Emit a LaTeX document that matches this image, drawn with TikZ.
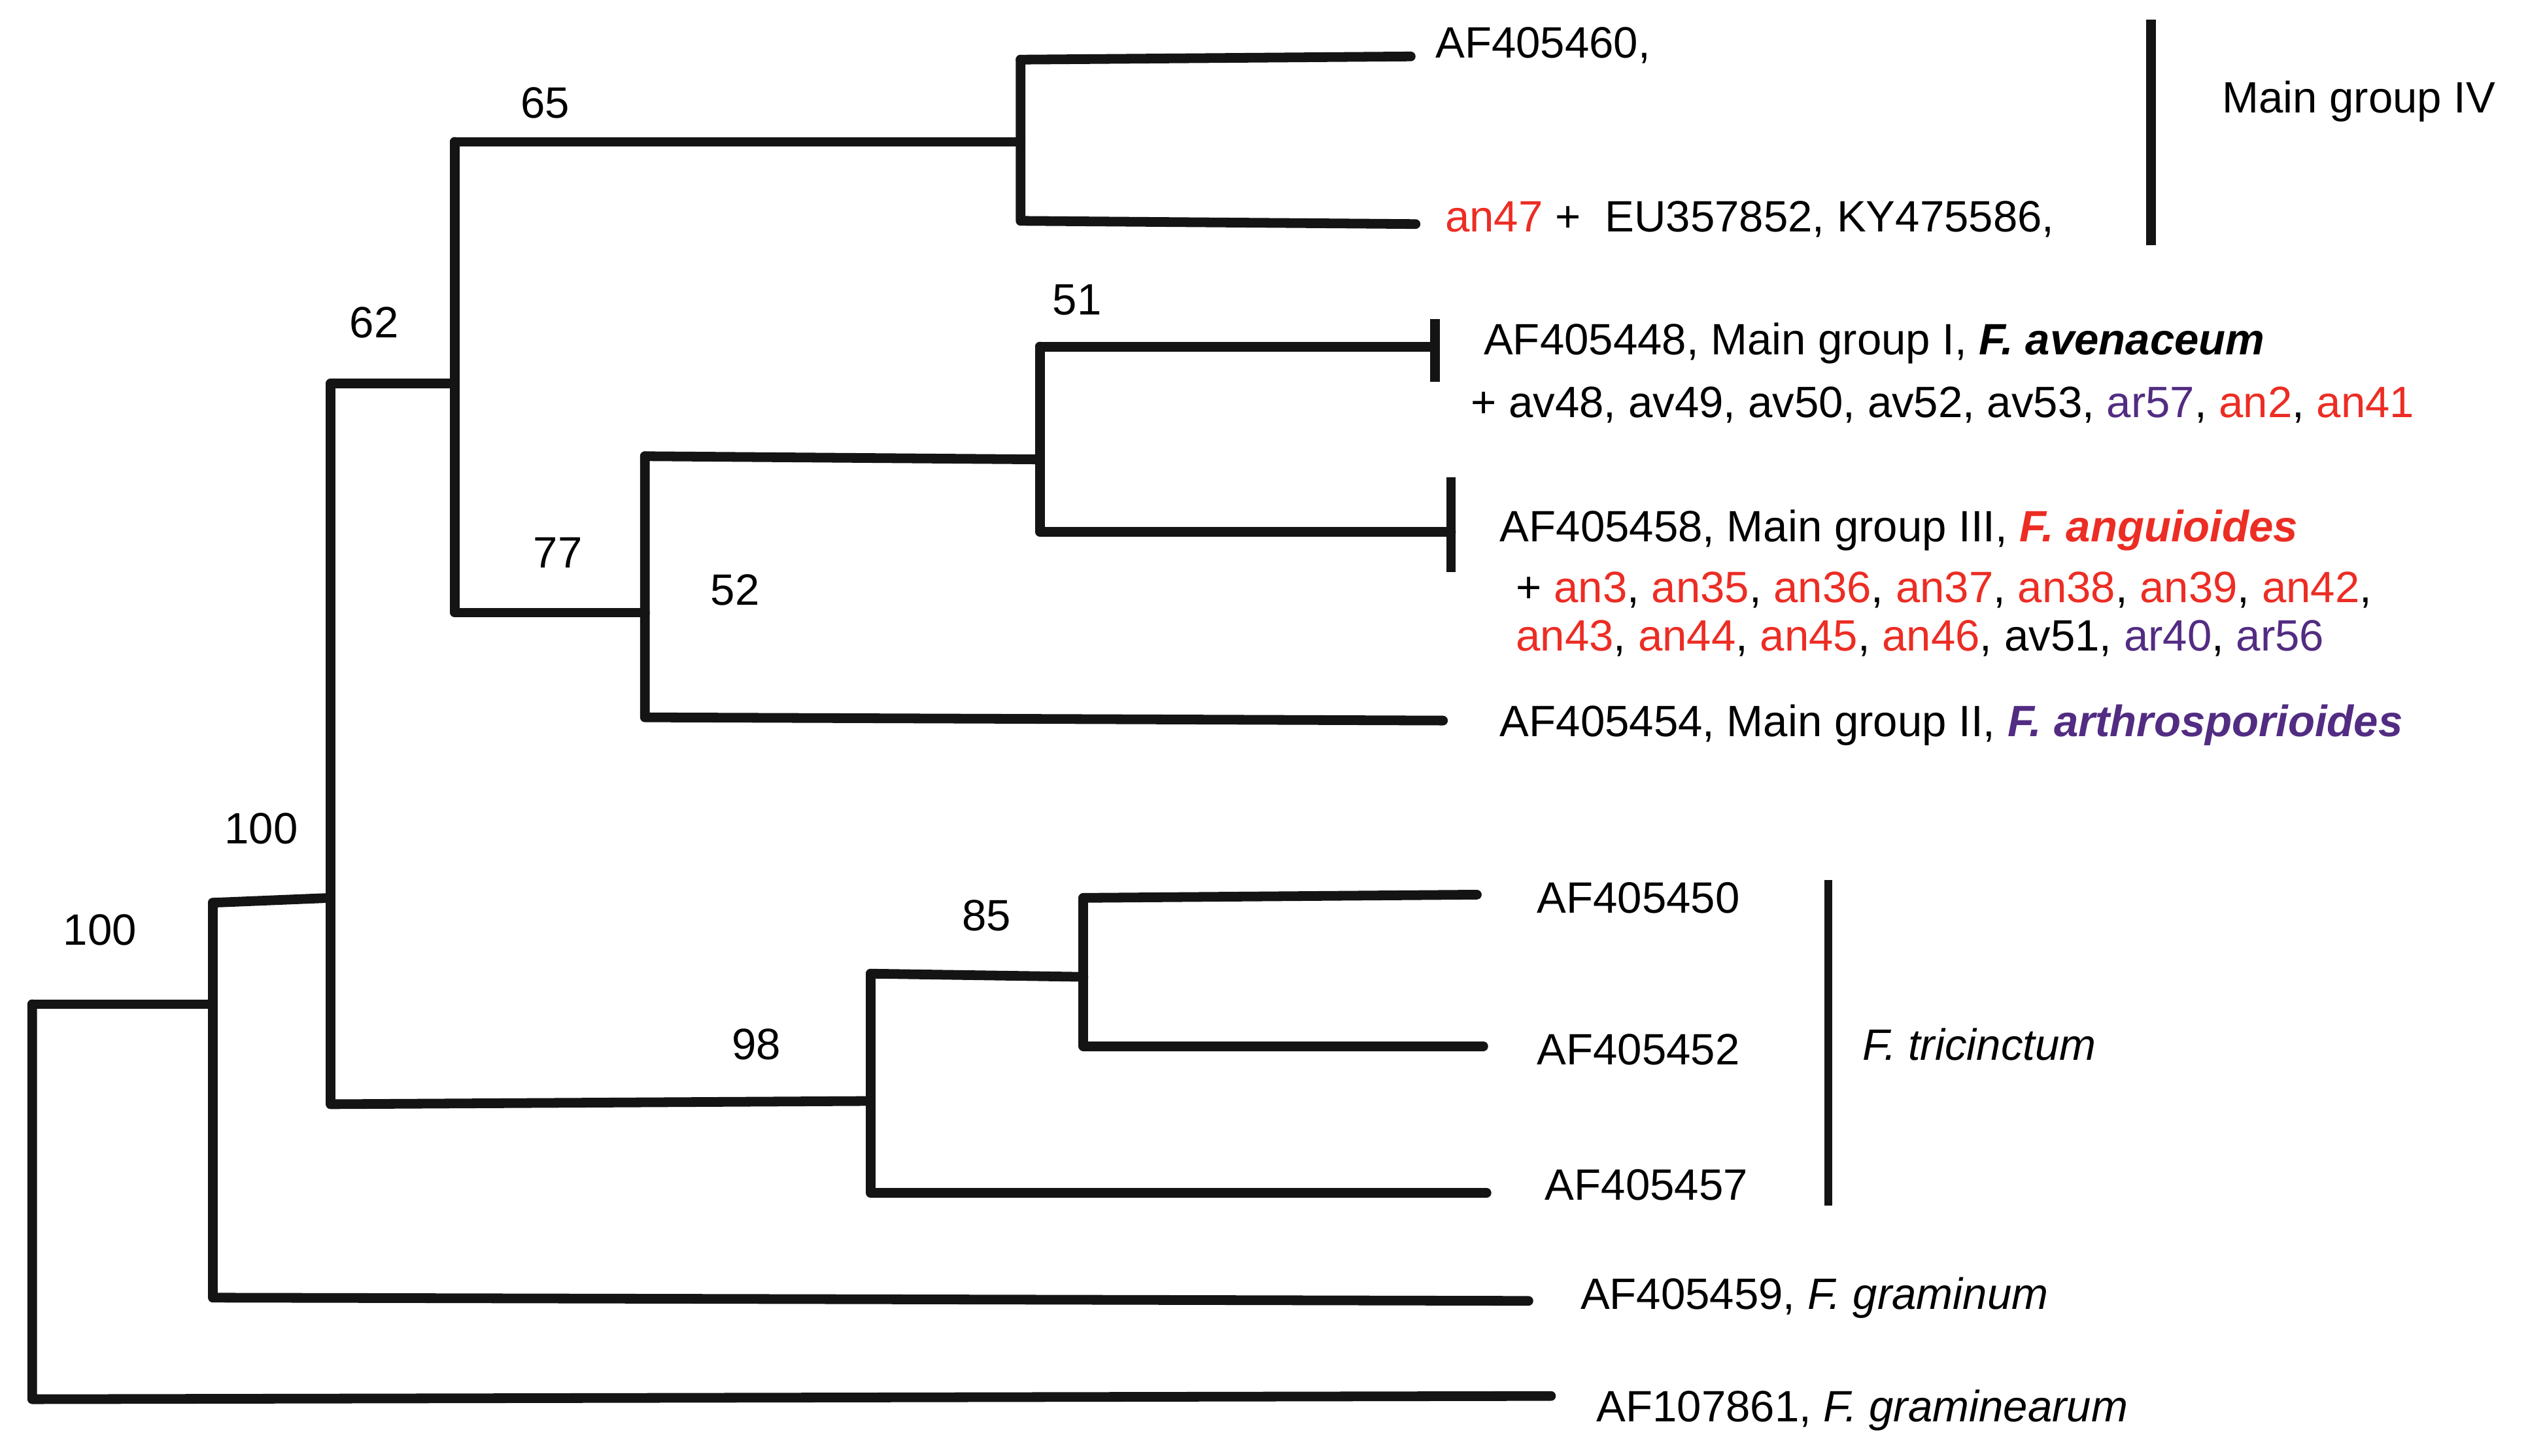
\documentclass[tikz,border=0pt]{standalone}
\usepackage{fontspec}
\setmainfont{Liberation Sans}
\definecolor{rd}{RGB}{236,45,36}
\definecolor{pu}{RGB}{82,44,130}
\begin{document}
\begin{tikzpicture}[x=0.02cm,y=-0.02cm,
  br/.style={line width=0.12cm,line cap=round,line join=round,black!92},
  lab/.style={anchor=west,inner sep=0pt,font=\fontsize{15.5}{18}\selectfont},
  bs/.style={anchor=center,inner sep=0pt,font=\fontsize{15.5}{18}\selectfont}]
\fill[white] (0,0) rectangle (1568,903);
\useasboundingbox (0,0) rectangle (1568,903);
% coordinates
\coordinate (r1) at (20,623); \coordinate (r2) at (20,868);
\coordinate (aT) at (132,623);
\coordinate (a1) at (132,560); \coordinate (a2) at (132,805);
\coordinate (b1) at (205,557); \coordinate (b2) at (205,685); \coordinate (b0) at (205,238);
\coordinate (c1) at (540,604); \coordinate (c2) at (540,740); \coordinate (cB) at (540,683);
\coordinate (d1) at (672,557); \coordinate (d2) at (672,649); \coordinate (dM) at (672,606);
\coordinate (e1) at (282,88); \coordinate (e2) at (282,380); \coordinate (eM) at (282,238);
\coordinate (f1) at (633,37); \coordinate (f2) at (633,137); \coordinate (fM) at (633,88);
\coordinate (g1) at (400,283); \coordinate (g2) at (400,445); \coordinate (gM) at (400,380);
\coordinate (h1) at (645,215); \coordinate (h2) at (645,330); \coordinate (hM) at (645,285);
% leaves
\coordinate (L1) at (875,35); \coordinate (L2) at (878,139);
\coordinate (L3) at (890,215); \coordinate (L4) at (900,330);
\coordinate (L5) at (895,447); \coordinate (L6) at (916,555);
\coordinate (L7) at (920,649); \coordinate (L8) at (922,740);
\coordinate (L9) at (948,807); \coordinate (L10) at (962,866);
\draw[br] (r1)--(r2)--(L10); \draw[br] (r1)--(aT);
\draw[br] (a1)--(a2)--(L9); \draw[br] (a1)--(b1);
\draw[br] (b0)--(b2)--(cB); \draw[br] (b0)--(eM);
\draw[br] (c1)--(c2)--(L8); \draw[br] (c1)--(dM);
\draw[br] (d1)--(d2)--(L7); \draw[br] (d1)--(L6);
\draw[br] (e1)--(e2)--(gM); \draw[br] (e1)--(fM);
\draw[br] (f1)--(f2)--(L2); \draw[br] (f1)--(L1);
\draw[br] (g1)--(g2)--(L5); \draw[br] (g1)--(hM);
\draw[br] (h1)--(h2)--(L4); \draw[br] (h1)--(L3);
\coordinate (t1a) at (890,198); \coordinate (t1b) at (890,237);
\coordinate (t2a) at (900,296); \coordinate (t2b) at (900,355);
\draw[br,line cap=butt] (t1a)--(t1b); \draw[br,line cap=butt] (t2a)--(t2b);
\coordinate (m1) at (1334,12); \coordinate (m2) at (1334,152);
\coordinate (n1) at (1134,546); \coordinate (n2) at (1134,748);
\draw[br,line cap=butt] (m1)--(m2); \draw[br,line width=0.1cm,line cap=butt] (n1)--(n2);
% bootstrap
\node[bs] (s65) at (338,64) {65};
\node[bs] (s62) at (232,200) {62};
\node[bs] (s51) at (668,186) {51};
\node[bs] (s77) at (346,343) {77};
\node[bs] (s52) at (456,366) {52};
\node[bs] (s100a) at (162,514) {100};
\node[bs] (s100b) at (62,577) {100};
\node[bs] (s85) at (612,568) {85};
\node[bs] (s98) at (469,648) {98};
% labels
\node[lab] (t1) at (890,28) {AF405460,};
\node[lab] (t2) at (896,136) {\textcolor{rd}{an47} +\ \ EU357852, KY475586,};
\node[lab] (t3) at (920,213) {AF405448, Main group I, \textbf{\textit{F. avenaceum}}};
\node[lab] (t4) at (912,251) {+ av48, av49, av50, av52, av53, \textcolor{pu}{ar57}, \textcolor{rd}{an2}, \textcolor{rd}{an41}};
\node[lab] (t5) at (930,329) {AF405458, Main group III, \textcolor{rd}{\textbf{\textit{F. anguioides}}}};
\node[lab] (t6) at (940,366) {+ \textcolor{rd}{an3}, \textcolor{rd}{an35}, \textcolor{rd}{an36}, \textcolor{rd}{an37}, \textcolor{rd}{an38}, \textcolor{rd}{an39}, \textcolor{rd}{an42},};
\node[lab] (t7) at (940,396) {\textcolor{rd}{an43}, \textcolor{rd}{an44}, \textcolor{rd}{an45}, \textcolor{rd}{an46}, av51, \textcolor{pu}{ar40}, \textcolor{pu}{ar56}};
\node[lab] (t8) at (930,450) {AF405454, Main group II, \textcolor{pu}{\textbf{\textit{F. arthrosporioides}}}};
\node[lab] (t9) at (953,557) {AF405450};
\node[lab] (t10) at (953,651) {AF405452};
\node[lab] (t11) at (958,735) {AF405457};
\node[lab] (t12) at (980,805) {AF405459, \textit{F. graminum}};
\node[lab] (t13) at (990,875) {AF107861, \textit{F. graminearum}};
\node[lab] (g4) at (1378,63) {Main group IV};
\node[lab] (ft) at (1155,648) {\textit{F. tricinctum}};
\end{tikzpicture}
\end{document}
